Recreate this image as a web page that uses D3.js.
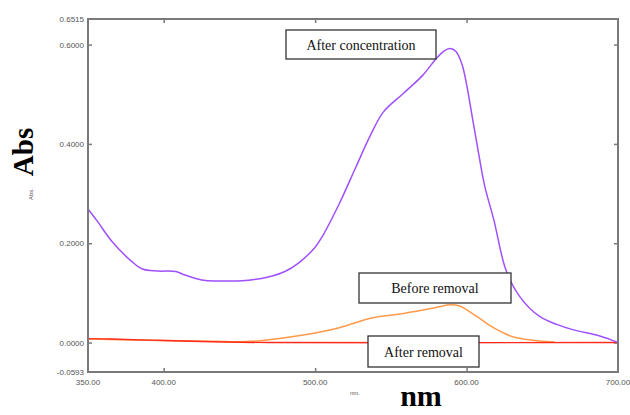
<!DOCTYPE html>
<html>
<head>
<meta charset="utf-8">
<script src="https://cdn.jsdelivr.net/npm/d3@7"></script>
<style>
  body { margin: 0; background: #fff; }
  svg { display: block; }
</style>
</head>
<body>
<svg id="chart" width="630" height="415"></svg>
<script>
// spectra (nm, Abs)
var concNm  = [350, 356, 366, 379, 386, 396, 408, 414, 425, 436, 454, 469, 480, 489, 500, 505, 516, 527, 536, 545, 558, 571, 580, 585, 589, 593, 597, 600, 604, 608, 612, 618, 626, 635, 648, 660, 670, 688, 700]
var concAbs = [0.269, 0.245, 0.203, 0.163, 0.148, 0.144, 0.143, 0.136, 0.126, 0.124, 0.125, 0.132, 0.143, 0.160, 0.192, 0.215, 0.280, 0.354, 0.414, 0.464, 0.501, 0.538, 0.572, 0.587, 0.592, 0.586, 0.560, 0.520, 0.450, 0.380, 0.315, 0.247, 0.146, 0.093, 0.053, 0.036, 0.026, 0.013, 0.0]

var beforeNm  = [350, 400, 440, 455, 468, 490, 516, 538, 555, 572, 582, 589, 595, 600, 608, 616, 624, 631, 640, 648, 658]
var beforeAbs = [0.007, 0.004, 0.002, 0.002, 0.005, 0.014, 0.030, 0.050, 0.057, 0.066, 0.072, 0.076, 0.074, 0.066, 0.050, 0.033, 0.020, 0.011, 0.006, 0.003, 0.001]

var afterNm  = [350, 365, 400, 440, 470, 700]
var afterAbs = [0.008, 0.007, 0.004, 0.001, 0.000, 0.000]

var xTicks = [400, 500, 600]
var xLabels = [350, 400, 500, 600, 700]
var yTicks = [0.6, 0.4, 0.2, 0.0]
var yLabels = [0.6515, 0.6, 0.4, 0.2, 0.0, -0.0593]

var svg = d3.select("#chart")
var plotLeft = 88, plotRight = 618, plotTop = 19, plotBottom = 372

var xScale = d3.scaleLinear().domain([350, 700]).range([plotLeft, plotRight])
var yScale = d3.scaleLinear().domain([-0.0593, 0.6515]).range([plotBottom, plotTop])

var frameColor = "#7a7a7a"
var labelFont = "Liberation Sans, Arial, sans-serif"
var serif = "Liberation Serif, Times New Roman, serif"

// tick marks, pointing inward on all four sides
var xTop = d3.axisTop(xScale).tickValues(xTicks).tickSize(-4).tickFormat("")
var xBot = d3.axisBottom(xScale).tickValues(xTicks).tickSize(-4).tickFormat("")
var yLeft = d3.axisLeft(yScale).tickValues(yTicks).tickSize(-4).tickFormat("")
var yRight = d3.axisRight(yScale).tickValues(yTicks).tickSize(-4).tickFormat("")

function styleAxis(g) {
  g.select(".domain").remove()
  g.selectAll("line").attr("stroke", frameColor).attr("stroke-width", 1.5)
}
svg.append("g").attr("transform", "translate(0," + plotTop + ")").call(xTop).call(styleAxis)
svg.append("g").attr("transform", "translate(0," + plotBottom + ")").call(xBot).call(styleAxis)
svg.append("g").attr("transform", "translate(" + plotLeft + ",0)").call(yLeft).call(styleAxis)
svg.append("g").attr("transform", "translate(" + plotRight + ",0)").call(yRight).call(styleAxis)

// curves
function curve(nm, abs) {
  return d3.line()
    .x(function (d, i) { return xScale(nm[i]) })
    .y(function (d) { return yScale(d) })
    .curve(d3.curveCatmullRom.alpha(0.5))(abs)
}
svg.append("path").attr("d", curve(beforeNm, beforeAbs))
  .attr("fill", "none").attr("stroke", "#ff9a4a").attr("stroke-width", 1.5)
svg.append("path").attr("d", curve(afterNm, afterAbs))
  .attr("fill", "none").attr("stroke", "#ff2a1a").attr("stroke-width", 1.4)
svg.append("path").attr("d", curve(concNm, concAbs))
  .attr("fill", "none").attr("stroke", "#a050ff").attr("stroke-width", 1.5)

// frame
svg.append("rect")
  .attr("x", plotLeft).attr("y", plotTop)
  .attr("width", plotRight - plotLeft).attr("height", plotBottom - plotTop)
  .attr("fill", "none").attr("stroke", frameColor).attr("stroke-width", 2)

// tick labels
svg.selectAll(".ylab").data(yLabels).enter().append("text")
  .attr("class", "ylab")
  .attr("x", plotLeft - 4)
  .attr("y", function (d) { return yScale(d) + 3 })
  .attr("text-anchor", "end")
  .attr("font-family", labelFont).attr("font-size", 8).attr("fill", "#555")
  .text(function (d) { return d.toFixed(4) })

svg.selectAll(".xlab").data(xLabels).enter().append("text")
  .attr("class", "xlab")
  .attr("x", function (d) { return xScale(d) })
  .attr("y", plotBottom + 13)
  .attr("text-anchor", "middle")
  .attr("font-family", labelFont).attr("font-size", 8).attr("fill", "#555")
  .text(function (d) { return d.toFixed(2) })

// small instrument axis names
svg.append("text").attr("x", 355).attr("y", 395)
  .attr("text-anchor", "middle")
  .attr("font-family", labelFont).attr("font-size", 6).attr("fill", "#555")
  .text("nm.")
svg.append("text").attr("transform", "translate(33,194) rotate(-90)")
  .attr("text-anchor", "middle")
  .attr("font-family", labelFont).attr("font-size", 6).attr("fill", "#555")
  .text("Abs.")

// big axis titles
svg.append("text").attr("x", 421).attr("y", 406)
  .attr("text-anchor", "middle")
  .attr("font-family", serif).attr("font-weight", "bold").attr("font-size", 30)
  .text("nm")
svg.append("text").attr("transform", "translate(33,152) rotate(-90)")
  .attr("text-anchor", "middle")
  .attr("font-family", serif).attr("font-weight", "bold").attr("font-size", 29)
  .text("Abs")

// label boxes
var boxes = [
  { text: "After concentration", x: 286, y: 30, w: 150, h: 29 },
  { text: "Before removal", x: 359, y: 273, w: 152, h: 30 },
  { text: "After removal", x: 368, y: 336, w: 111, h: 31 }
]
var box = svg.selectAll(".box").data(boxes).enter().append("g").attr("class", "box")
box.append("rect")
  .attr("x", function (d) { return d.x }).attr("y", function (d) { return d.y })
  .attr("width", function (d) { return d.w }).attr("height", function (d) { return d.h })
  .attr("fill", "#fff").attr("stroke", "#333").attr("stroke-width", 1.3)
box.append("text")
  .attr("x", function (d) { return d.x + d.w / 2 })
  .attr("y", function (d) { return d.y + d.h / 2 + 5 })
  .attr("text-anchor", "middle")
  .attr("font-family", serif).attr("font-size", 14).attr("fill", "#111")
  .text(function (d) { return d.text })
</script>
</body>
</html>
